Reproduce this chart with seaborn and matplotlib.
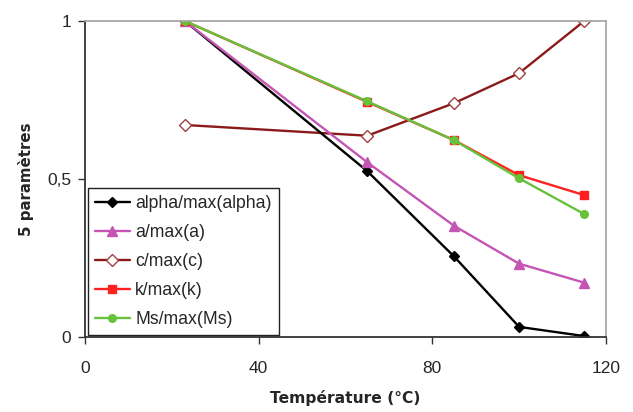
import numpy as np
import pandas as pd
import seaborn as sns
import matplotlib.pyplot as plt

# donnees
temperature = [23, 65, 85, 100, 115]
alpha_n = [1.0, 0.525, 0.255, 0.032, 0.003]
a_n = [1.0, 0.553, 0.352, 0.232, 0.172]
c_n = [0.671, 0.637, 0.740, 0.835, 1.0]
k_n = [1.0, 0.744, 0.623, 0.512, 0.449]
ms_n = [1.0, 0.746, 0.623, 0.502, 0.389]

labels = ["alpha/max(alpha)", "a/max(a)", "c/max(c)", "k/max(k)", "Ms/max(Ms)"]
x_ticks = [0, 40, 80, 120]
y_ticks = [0, 0.5, 1]
y_tick_labels = ["0", "0,5", "1"]

sns.set_style("white")
plt.rcParams['font.family'] = ['Liberation Sans', 'DejaVu Sans']

fig = plt.figure(figsize=(6.33, 4.12), dpi=100)
ax = fig.add_axes([0.1343, 0.182, 0.823, 0.767])

series = [alpha_n, a_n, c_n, k_n, ms_n]
# style: (couleur ligne, marqueur, taille, face, bord)
styles = [
    ("#000000", "D", 5, "#000000", "#000000"),
    ("#C455B4", "^", 7, "#C455B4", "#C455B4"),
    ("#8B1A1A", "D", 6, "white", "#A04040"),
    ("#FF2020", "s", 6, "#FF2020", "#FF2020"),
    ("#66C23A", "o", 5.5, "#66C23A", "#66C23A"),
]

# ordre de trace : c en dessous, Ms au dessus de k
order = [2, 0, 1, 3, 4]
for i in order:
    col, mk, ms, fc, ec = styles[i]
    df = pd.DataFrame({"T": temperature, "v": series[i]})
    sns.lineplot(data=df, x="T", y="v", ax=ax, color=col, linewidth=1.7,
                 marker=mk, markersize=ms, markerfacecolor=fc,
                 markeredgecolor=ec, markeredgewidth=1, label=labels[i])

ax.set_xlim(0, 120)
ax.set_ylim(0, 1)
ax.set_xticks(x_ticks)
ax.set_yticks(y_ticks)
ax.set_yticklabels(y_tick_labels)
ax.tick_params(axis="both", direction="out", length=5, width=1, color="#333333",
               labelsize=12.5, left=True, bottom=True, pad=5)
ax.tick_params(axis="x", pad=12)

for s in ["left", "bottom"]:
    ax.spines[s].set_color("#333333")
    ax.spines[s].set_linewidth(1.3)
for s in ["top", "right"]:
    ax.spines[s].set_color("#A8A8A8")
    ax.spines[s].set_linewidth(1.3)

ax.set_xlabel("Température (°C)", fontsize=11.2, fontweight="bold",
              family="DejaVu Sans", labelpad=10)
ax.set_ylabel("5 paramètres", fontsize=10.8, fontweight="bold",
              family="DejaVu Sans", labelpad=9)

handles, labs = ax.get_legend_handles_labels()
hmap = dict(zip(labs, handles))
leg = ax.legend([hmap[l] for l in labels], labels, loc="lower left",
                bbox_to_anchor=(0.005, 0.005), fontsize=12.7, frameon=True,
                fancybox=False, edgecolor="#222222", framealpha=1,
                handlelength=2.0, handletextpad=0.3, labelspacing=0.68,
                borderpad=0.4, borderaxespad=0)
leg.get_frame().set_linewidth(1.0)

fig.savefig("out.png", dpi=100)
